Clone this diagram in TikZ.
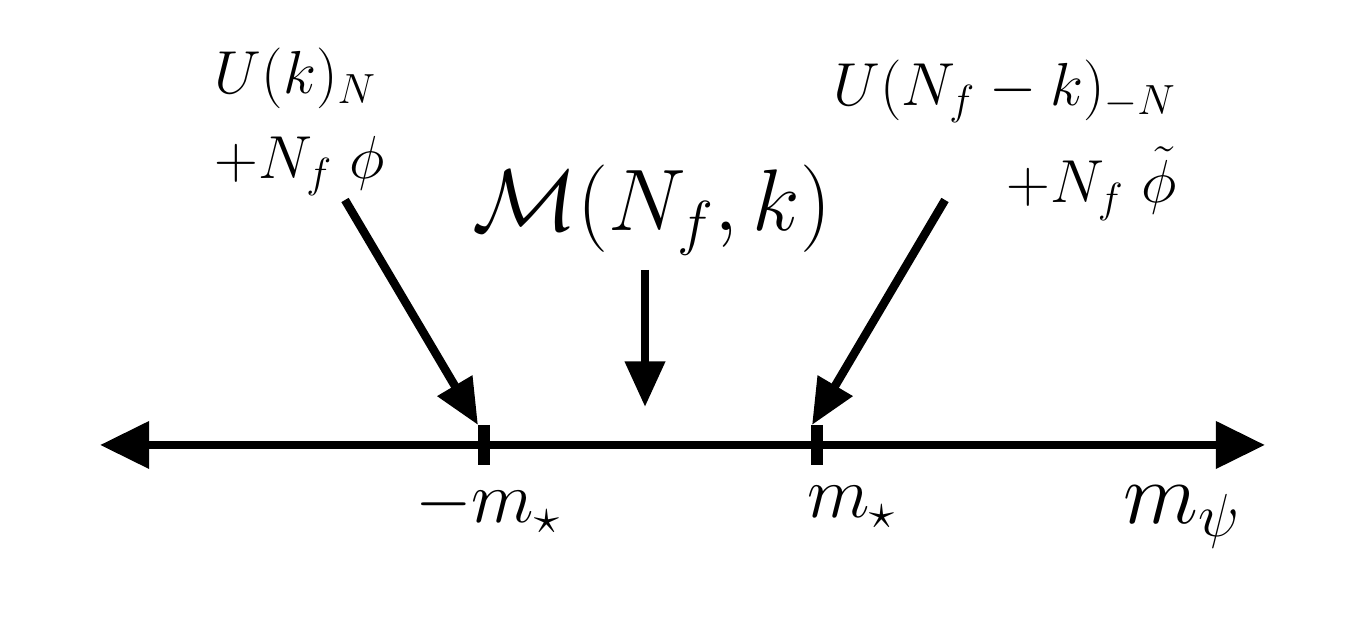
\documentclass[tikz,border=0pt]{standalone}
\usetikzlibrary{arrows.meta}
\tikzset{
  axisline/.style={line width=2.4pt, {Triangle[length=14pt,width=13pt]}-{Triangle[length=14pt,width=13pt]}},
  pointer/.style={line width=2.4pt, -{Triangle[length=13pt,width=11pt]}},
  tickmark/.style={line width=3.2pt},
  lbl/.style={font=\fontsize{17}{20}\selectfont, inner sep=0pt}
}
\begin{document}
\begin{tikzpicture}
  \useasboundingbox (0,0) rectangle (13.6,6.22);

  % axis and ticks
  \coordinate (left) at (1.0,1.77);
  \coordinate (right) at (12.65,1.77);
  \draw[axisline] (left) -- (right);
  \coordinate (mlo) at (4.84,1.77);
  \coordinate (mhi) at (8.17,1.77);
  \draw[tickmark] ([yshift=0.2cm]mlo) -- ([yshift=-0.2cm]mlo);
  \draw[tickmark] ([yshift=0.2cm]mhi) -- ([yshift=-0.2cm]mhi);

  % axis labels
  \node[lbl, font=\fontsize{21}{25}\selectfont] (minus) at (4.88,1.15) {$-m_\star$};
  \node[lbl, font=\fontsize{21}{25}\selectfont] (plus) at (8.52,1.15) {$m_\star$};
  \node[lbl, font=\fontsize{25}{30}\selectfont] (mpsi) at (11.82,1.05) {$m_\psi$};

  % phases
  \node[lbl, align=left] (leftphase) at (3.0,5.0) {$U(k)_N$\\[4pt]$+N_f\;\phi$};
  \node[lbl, font=\fontsize{25}{30}\selectfont] (middle) at (6.52,4.12) {$\mathcal{M}(N_f,k)$};
  \node[lbl, align=right] (rightphase) at (10.05,4.82) {$U(N_f-k)_{-N}$\\[6pt]$+N_f\;\tilde\phi$};

  % pointers
  \coordinate (a1) at (3.45,4.22);
  \coordinate (a2) at (6.45,3.52);
  \coordinate (a3) at (9.45,4.22);
  \draw[pointer] (a1) -- ([xshift=-0.06cm,yshift=0.2cm]mlo);
  \draw[pointer] (a2) -- (6.45,2.15);
  \draw[pointer] (a3) -- ([xshift=-0.05cm,yshift=0.2cm]mhi);
\end{tikzpicture}
\end{document}
